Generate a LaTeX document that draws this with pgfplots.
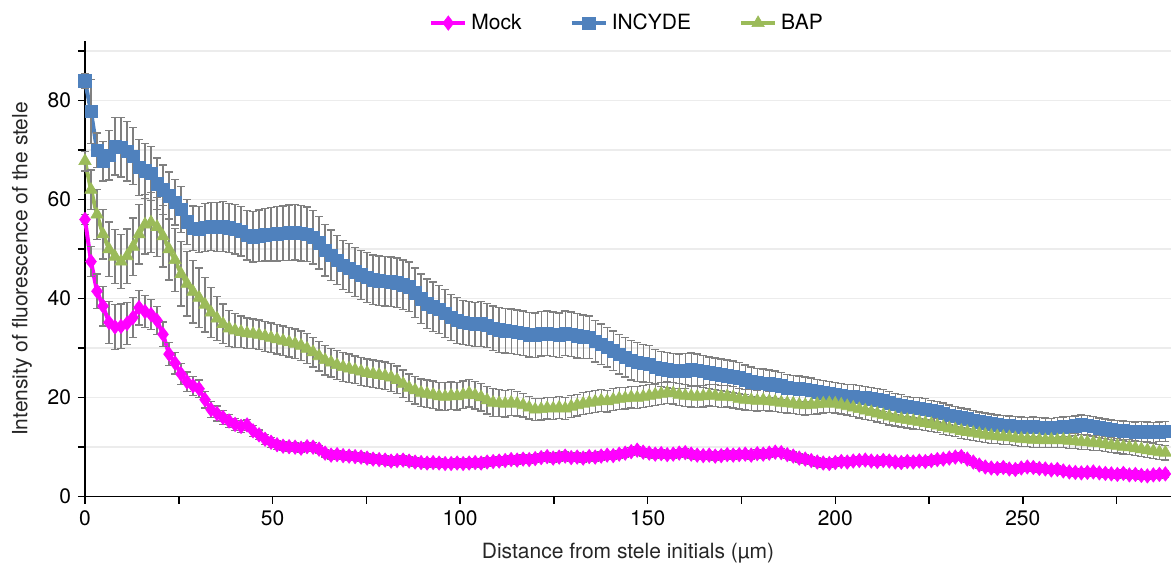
\documentclass[border=0pt]{standalone}
\usepackage{fontspec}
\setmainfont{TeX Gyre Heros}
\usepackage{pgfplots}
\pgfplotsset{compat=1.18}
\usepackage{pgfplotstable}

\definecolor{mockc}{RGB}{255,0,255}
\definecolor{incc}{RGB}{79,129,189}
\definecolor{bapc}{RGB}{155,187,89}
\definecolor{errc}{RGB}{128,128,128}
\definecolor{gridc}{RGB}{236,236,236}

% x: distance (um); m, i, b: mean intensity; me, ie, be: error
\pgfplotstableread{
x m me i ie b be
0.0 56.0 1.0 84.0 1.5 67.8 2.0
1.6 47.5 3.0 77.8 6.5 62.0 4.0
3.2 41.5 3.5 70.0 3.5 57.0 5.0
4.8 38.5 4.0 67.8 4.0 53.0 5.0
6.4 35.2 4.2 69.0 5.0 50.0 5.5
8.0 34.3 4.5 70.8 5.8 48.5 5.5
9.6 34.4 4.5 70.6 6.0 47.5 5.5
11.2 35.0 4.3 69.8 6.0 48.6 5.5
12.8 36.2 4.0 68.8 5.8 50.5 5.8
14.4 38.2 3.5 66.5 5.6 53.0 6.0
16.0 37.4 3.2 65.8 5.5 55.0 6.0
17.6 36.8 3.0 65.3 5.4 55.4 6.0
19.2 35.6 2.8 63.2 5.2 54.5 6.0
20.8 32.8 2.5 62.0 5.0 52.6 6.2
22.4 28.8 2.3 60.8 4.8 50.0 6.2
24.0 27.0 2.2 59.5 4.6 47.8 6.4
25.6 24.8 2.1 58.0 4.6 45.0 6.5
27.2 23.2 2.0 55.5 4.5 43.0 6.5
28.8 22.4 1.9 54.2 4.5 41.4 6.3
30.4 21.8 1.8 54.0 4.6 40.2 6.0
32.0 19.6 1.7 54.4 4.8 38.8 5.5
33.6 17.6 1.6 54.6 4.9 37.2 5.0
35.2 16.8 1.5 54.5 5.0 36.0 4.5
36.8 16.0 1.4 54.6 5.0 34.9 4.0
38.4 15.3 1.3 54.3 5.0 34.0 3.6
40.0 14.6 1.2 54.0 5.0 33.6 3.4
41.6 14.2 1.2 53.6 5.0 33.3 3.2
43.2 14.5 1.1 52.8 5.0 33.0 3.1
44.8 13.3 1.1 52.5 5.1 32.9 3.0
46.4 12.5 1.0 52.7 5.2 32.7 3.0
48.0 11.6 1.0 52.9 5.3 32.4 3.0
49.6 11.0 1.0 53.0 5.4 32.1 3.0
51.2 10.5 0.9 53.1 5.5 31.8 3.0
52.8 10.2 0.9 53.2 5.5 31.5 3.0
54.4 10.1 0.9 53.3 5.6 31.2 3.0
56.0 10.0 0.9 53.4 5.6 30.9 3.0
57.6 9.8 0.9 53.2 5.6 30.5 3.0
59.2 10.1 0.9 53.0 5.5 29.9 3.0
60.8 10.0 0.9 52.4 5.4 29.2 3.0
62.4 9.6 0.8 51.3 5.3 28.4 3.0
64.0 8.8 0.8 49.8 5.2 27.6 3.0
65.6 8.4 0.8 48.8 5.1 27.1 2.9
67.2 8.5 0.8 47.8 5.0 26.6 2.9
68.8 8.3 0.8 46.8 5.0 26.2 2.9
70.4 8.2 0.8 46.2 5.0 25.9 2.9
72.0 8.1 0.8 45.4 5.0 25.6 2.8
73.6 8.0 0.8 44.8 5.0 25.3 2.8
75.2 7.8 0.8 44.3 5.0 25.0 2.8
76.8 7.6 0.8 43.8 5.0 24.8 2.8
78.4 7.5 0.8 43.6 5.0 24.6 2.8
80.0 7.4 0.8 43.5 5.0 24.4 2.8
81.6 7.2 0.8 43.4 5.0 24.1 2.8
83.2 7.3 0.8 43.2 5.0 23.6 2.8
84.8 7.4 0.8 42.8 5.0 22.8 2.8
86.4 7.2 0.8 42.4 5.0 22.0 2.8
88.0 7.0 0.8 41.2 5.0 21.5 2.8
89.6 6.9 0.8 40.0 5.0 21.0 2.8
91.2 6.8 0.8 39.0 5.0 20.8 2.8
92.8 6.9 0.8 38.4 5.0 20.6 2.8
94.4 6.8 0.8 37.8 4.9 20.3 2.8
96.0 6.7 0.8 37.0 4.8 20.2 2.8
97.6 6.7 0.8 36.2 4.7 20.4 2.8
99.2 6.8 0.8 35.6 4.6 20.3 2.8
100.8 6.7 0.8 35.2 4.5 20.6 2.8
102.4 6.8 0.8 35.0 4.5 20.9 2.8
104.0 6.9 0.8 34.8 4.5 20.5 2.8
105.6 6.8 0.8 34.9 4.5 20.1 2.8
107.2 7.0 0.8 34.6 4.5 19.5 2.8
108.8 7.1 0.8 34.0 4.5 19.0 2.8
110.4 7.2 0.8 33.7 4.5 18.9 2.7
112.0 7.3 0.8 33.5 4.5 18.8 2.7
113.6 7.5 0.8 33.4 4.5 19.0 2.6
115.2 7.4 0.8 33.2 4.5 18.8 2.5
116.8 7.6 0.8 33.0 4.5 18.5 2.4
118.4 7.5 0.8 32.7 4.5 18.0 2.3
120.0 7.7 0.8 32.6 4.5 17.6 2.2
121.6 7.9 0.8 32.9 4.5 17.7 2.2
123.2 8.1 0.8 33.0 4.5 17.9 2.2
124.8 7.8 0.8 32.8 4.5 17.8 2.2
126.4 8.0 0.8 32.6 4.5 18.0 2.2
128.0 8.2 0.8 33.0 4.5 17.8 2.2
129.6 7.9 0.8 32.8 4.5 18.2 2.2
131.2 8.0 0.8 32.5 4.5 18.5 2.2
132.8 7.8 0.8 32.3 4.4 18.8 2.2
134.4 8.1 0.8 32.2 4.3 19.0 2.2
136.0 8.0 0.8 31.4 4.2 19.2 2.2
137.6 8.2 0.8 30.8 4.1 19.4 2.2
139.2 8.4 0.8 30.2 4.0 19.3 2.2
140.8 8.3 0.8 29.5 4.0 19.6 2.2
142.4 8.6 0.8 28.8 4.0 19.8 2.2
144.0 8.8 0.8 28.2 4.0 19.9 2.2
145.6 9.1 0.8 27.6 4.0 20.1 2.2
147.2 9.4 0.8 27.2 3.9 20.0 2.2
148.8 9.0 0.8 27.0 3.8 20.2 2.2
150.4 8.8 0.8 26.8 3.7 20.4 2.2
152.0 8.6 0.8 26.2 3.6 20.6 2.2
153.6 8.7 0.8 25.8 3.5 20.8 2.2
155.2 8.5 0.8 25.6 3.5 21.0 2.2
156.8 8.6 0.8 25.4 3.5 20.9 2.2
158.4 8.8 0.8 25.3 3.5 20.6 2.2
160.0 8.9 0.8 25.4 3.5 20.4 2.2
161.6 8.6 0.8 25.6 3.4 20.3 2.2
163.2 8.4 0.8 25.5 3.3 20.2 2.2
164.8 8.3 0.8 25.3 3.2 20.3 2.2
166.4 8.4 0.8 25.0 3.2 20.5 2.2
168.0 8.2 0.8 24.8 3.2 20.4 2.2
169.6 8.3 0.8 24.6 3.2 20.2 2.2
171.2 8.5 0.8 24.4 3.2 20.3 2.2
172.8 8.4 0.8 24.2 3.2 20.1 2.2
174.4 8.5 0.8 24.0 3.1 19.8 2.1
176.0 8.6 0.8 23.6 3.0 19.6 2.1
177.6 8.4 0.8 23.2 3.0 19.5 2.1
179.2 8.7 0.8 23.0 2.9 19.4 2.1
180.8 8.6 0.8 22.9 2.9 19.5 2.1
182.4 8.8 0.8 22.8 2.8 19.3 2.0
184.0 9.0 0.8 22.6 2.8 19.2 2.0
185.6 8.9 0.8 22.4 2.7 19.0 2.0
187.2 8.5 0.8 22.0 2.7 18.9 2.0
188.8 8.2 0.8 21.9 2.6 18.8 2.0
190.4 7.8 0.8 21.8 2.6 18.6 2.0
192.0 7.6 0.8 21.7 2.5 18.5 2.0
193.6 7.3 0.8 21.5 2.5 18.6 2.0
195.2 7.0 0.8 21.2 2.5 18.7 2.0
196.8 6.8 0.8 21.0 2.5 18.8 1.9
198.4 6.7 0.7 20.8 2.5 18.9 1.9
200.0 6.9 0.7 20.6 2.4 18.8 1.9
201.6 7.1 0.7 20.4 2.4 18.6 1.9
203.2 7.0 0.7 20.3 2.4 18.3 1.8
204.8 7.2 0.7 20.2 2.4 18.0 1.8
206.4 7.3 0.7 20.1 2.3 17.7 1.8
208.0 7.4 0.7 20.0 2.3 17.4 1.8
209.6 7.2 0.7 19.8 2.3 17.1 1.7
211.2 7.1 0.7 19.6 2.3 16.8 1.7
212.8 7.3 0.7 19.4 2.2 16.5 1.7
214.4 7.2 0.7 19.0 2.2 16.2 1.7
216.0 7.0 0.7 18.7 2.2 15.9 1.6
217.6 6.9 0.7 18.4 2.2 15.7 1.6
219.2 7.1 0.7 18.2 2.1 15.5 1.6
220.8 7.0 0.7 18.0 2.1 15.3 1.6
222.4 7.2 0.7 17.9 2.1 15.1 1.5
224.0 7.1 0.7 17.7 2.1 14.9 1.5
225.6 7.3 0.7 17.5 2.0 14.7 1.5
227.2 7.5 0.7 17.2 2.0 14.4 1.5
228.8 7.6 0.7 16.9 2.0 14.1 1.5
230.4 7.8 0.7 16.5 2.0 13.8 1.5
232.0 8.0 0.7 16.2 2.0 13.6 1.5
233.6 8.1 0.7 15.9 2.0 13.3 1.5
235.2 7.6 0.7 15.7 2.0 13.1 1.5
236.8 7.0 0.7 15.4 2.0 12.9 1.5
238.4 6.4 0.7 15.1 2.0 12.7 1.5
240.0 6.0 0.7 14.9 2.0 12.5 1.5
241.6 5.8 0.7 14.7 2.0 12.3 1.5
243.2 5.7 0.7 14.5 2.0 12.2 1.5
244.8 5.9 0.7 14.4 2.0 12.1 1.5
246.4 5.6 0.7 14.3 2.0 12.0 1.5
248.0 5.5 0.7 14.2 2.0 11.8 1.5
249.6 5.8 0.7 14.1 2.0 11.7 1.5
251.2 6.0 0.7 14.0 2.0 11.6 1.5
252.8 5.9 0.7 14.1 2.0 11.5 1.5
254.4 5.7 0.7 14.0 2.0 11.5 1.5
256.0 5.6 0.7 13.9 2.0 11.4 1.5
257.6 5.4 0.7 13.8 2.0 11.5 1.5
259.2 5.5 0.7 14.0 2.0 11.4 1.5
260.8 5.2 0.7 14.1 2.0 11.5 1.5
262.4 5.0 0.7 14.2 2.0 11.3 1.5
264.0 4.9 0.7 14.3 2.0 11.2 1.5
265.6 4.8 0.7 14.5 2.0 11.1 1.5
267.2 4.9 0.7 14.4 2.0 11.0 1.5
268.8 5.0 0.7 14.2 2.0 10.9 1.5
270.4 4.8 0.7 13.9 2.0 10.8 1.5
272.0 4.7 0.7 13.7 2.0 10.6 1.5
273.6 4.6 0.7 13.5 2.0 10.4 1.5
275.2 4.5 0.7 13.4 2.0 10.3 1.5
276.8 4.7 0.7 13.3 2.0 10.1 1.5
278.4 4.4 0.7 13.2 2.0 10.0 1.5
280.0 4.5 0.7 13.1 2.0 9.8 1.5
281.6 4.3 0.7 13.2 2.0 9.6 1.5
283.2 4.2 0.7 13.1 2.0 9.4 1.5
284.8 4.4 0.7 13.0 2.0 9.2 1.5
286.4 4.5 0.7 13.1 2.0 9.0 1.5
288.0 4.6 0.7 13.2 2.0 8.9 1.5
}\stele

\pgfplotsset{
  errstyle/.style={
    error bars/.cd, y dir=both, y explicit,
    error bar style={errc, line width=0.65pt},
    error mark options={rotate=90, errc, mark size=2pt, line width=0.65pt}
  }
}

\begin{document}
\begin{tikzpicture}
\begin{axis}[
  scale only axis,
  width=543pt, height=227.7pt,
  xmin=0, xmax=289.5, ymin=0, ymax=92,
  clip=false,
  axis x line=bottom, axis y line=left,
  axis line style={-, black, line width=0.75pt},
  xtick={0,50,...,250}, minor xtick={25,75,...,275},
  ytick={0,20,...,80}, minor ytick={10,30,...,90},
  ymajorgrids, yminorgrids,
  major grid style={gridc, line width=0.8pt},
  minor grid style={gridc, line width=0.8pt},
  tick align=outside,
  major tick length=3.5pt, minor tick length=3.5pt,
  tick style={black, line width=0.75pt},
  /pgf/number format/assume math mode=true,
  ticklabel style={font=\fontsize{10.5}{12}\selectfont},
  label style={font=\fontsize{10.5}{12}\selectfont, text=black!85},
  xlabel={Distance from stele initials (µm)},
  ylabel={Intensity of fluorescence of the stele},
  xlabel style={at={(axis description cs:0.5,-0.124)}, anchor=center},
  ylabel style={at={(axis description cs:-0.058,0.5)}, anchor=center},
  legend style={at={(axis description cs:0.5,1.04)}, anchor=center,
    legend columns=3, draw=none, fill=none,
    font=\fontsize{10.5}{12}\selectfont,
    /tikz/every even column/.append style={column sep=22pt}},
  legend cell align=left,
]
\coordinate (O) at (rel axis cs:0,0);

\addplot[mockc, line width=2pt, mark=diamond*, mark size=3.6pt,
  mark options={solid, fill=mockc, line width=0.3pt}, errstyle]
  table[x=x, y=m, y error=me]{\stele};
\addlegendentry{Mock}

\addplot[incc, line width=2pt, mark=square*, mark size=3.1pt,
  mark options={solid, fill=incc, line width=0.3pt}, errstyle]
  table[x=x, y=i, y error=ie]{\stele};
\addlegendentry{INCYDE}

\addplot[bapc, line width=2pt, mark=triangle*, mark size=3.6pt,
  mark options={solid, fill=bapc, line width=0.3pt}, errstyle]
  table[x=x, y=b, y error=be]{\stele};
\addlegendentry{BAP}
\end{axis}
\pgfresetboundingbox
\path ([shift={(-42.5pt,-37.65pt)}]O) rectangle ([shift={(543pt,248.35pt)}]O);
\end{tikzpicture}
\end{document}
